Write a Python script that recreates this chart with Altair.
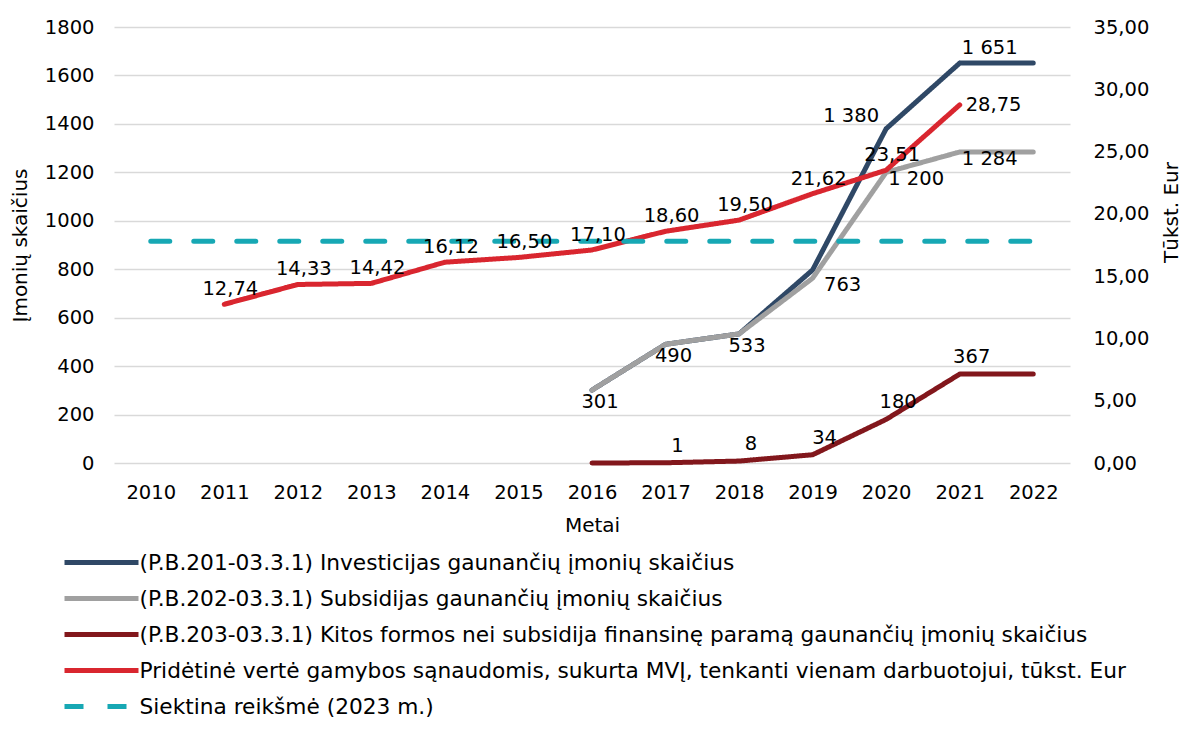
import altair as alt
import pandas as pd

# ---------------- data ----------------
years = [2010, 2011, 2012, 2013, 2014, 2015, 2016, 2017, 2018, 2019, 2020, 2021, 2022]

s_invest = "(P.B.201-03.3.1) Investicijas gaunančių įmonių skaičius"
s_subsid = "(P.B.202-03.3.1) Subsidijas gaunančių įmonių skaičius"
s_kitos = "(P.B.203-03.3.1) Kitos formos nei subsidija finansinę paramą gaunančių įmonių skaičius"
s_prid = "Pridėtinė vertė gamybos sąnaudomis, sukurta MVĮ, tenkanti vienam darbuotojui, tūkst. Eur"
s_target = "Siektina reikšmė (2023 m.)"

invest = [None, None, None, None, None, None, 301, 490, 533, 797, 1380, 1651, 1651]
subsid = [None, None, None, None, None, None, 301, 490, 533, 763, 1200, 1284, 1284]
kitos = [None, None, None, None, None, None, 0, 1, 8, 34, 180, 367, 367]
pridetine = [None, 12.74, 14.33, 14.42, 16.12, 16.50, 17.10, 18.60, 19.50, 21.62, 23.51, 28.75, None]
target = [17.8] * 13

invest_labeled = [2020, 2021]
subsid_labeled = [2016, 2017, 2018, 2019, 2020, 2021]
kitos_labeled = [2017, 2018, 2019, 2020, 2021]
prid_labeled = [2011, 2012, 2013, 2014, 2015, 2016, 2017, 2018, 2019, 2020, 2021]

series_names = [s_invest, s_subsid, s_kitos, s_prid, s_target]
series_colors = ["#2f4866", "#a0a0a0", "#82171c", "#d9262f", "#17a8b4"]
series_dash = [[1, 0], [1, 0], [1, 0], [1, 0], [19, 24]]


def count_label(v):
    return f"{v:,}".replace(",", " ")


def eur_label(v):
    return f"{v:.2f}".replace(".", ",")


def frame(name, values, labeled, fmt):
    rows = []
    for y, v in zip(years, values):
        if v is None:
            continue
        rows.append({"year": str(y), "series": name, "value": v,
                     "label": fmt(v) if (fmt and y in labeled) else ""})
    return pd.DataFrame(rows)


df_invest = frame(s_invest, invest, invest_labeled, count_label)
df_subsid = frame(s_subsid, subsid, subsid_labeled, count_label)
df_kitos = frame(s_kitos, kitos, kitos_labeled, count_label)
df_prid = frame(s_prid, pridetine, prid_labeled, eur_label)
df_target = frame(s_target, target, [], None)

FONT = "DejaVu Sans"
NUM = 19.5

x_enc = alt.X(
    "year:O",
    scale=alt.Scale(domain=[str(y) for y in years], padding=0.5),
    axis=alt.Axis(title="Metai", labelAngle=0, ticks=False, domain=False,
                  labelPadding=20, titlePadding=14, labelFontSize=NUM,
                  titleFontSize=20, titleFontWeight="normal", labelColor="#000",
                  titleColor="#000", labelFont=FONT, titleFont=FONT, grid=False),
)

y_left = alt.Y(
    "value:Q",
    scale=alt.Scale(domain=[0, 1800], nice=False),
    axis=alt.Axis(values=list(range(0, 1801, 200)), format="d", title="Įmonių skaičius",
                  grid=True, gridColor="#d9d9d9", gridWidth=1.5, domain=False, ticks=False,
                  labelPadding=20, titlePadding=14, labelFontSize=NUM, titleFontSize=20,
                  titleFontWeight="normal", labelColor="#000", titleColor="#000",
                  labelFont=FONT, titleFont=FONT),
)

y_right = alt.Y(
    "value:Q",
    scale=alt.Scale(domain=[0, 35], nice=False),
    axis=alt.Axis(orient="right", values=list(range(0, 36, 5)),
                  labelExpr="replace(format(datum.value, '.2f'), '.', ',')",
                  title="Tūkst. Eur", titleAngle=270, titleAlign="center",
                  titleBaseline="middle", titleX=101, titleY=185,
                  grid=False, domain=False, ticks=False,
                  labelPadding=23, labelFontSize=NUM, titleFontSize=20,
                  titleFontWeight="normal", labelColor="#000", titleColor="#000",
                  labelFont=FONT, titleFont=FONT),
)

legend = alt.Legend(
    title=None, orient="none", legendX=-33.5, legendY=514.5, direction="vertical",
    symbolType="M-2,0H2", symbolSize=1369, symbolStrokeWidth=5,
    labelFontSize=21.7, labelFont=FONT, labelColor="#000", labelLimit=1200,
    labelOffset=17, rowPadding=3, padding=0,
)

color_enc = alt.Color("series:N", scale=alt.Scale(domain=series_names, range=series_colors),
                      legend=legend)
dash_enc = alt.StrokeDash("series:N", scale=alt.Scale(domain=series_names, range=series_dash),
                          legend=legend)


def line(df, y):
    return alt.Chart(df).mark_line(strokeWidth=5, strokeCap="round", strokeJoin="round").encode(
        x=x_enc, y=y, color=color_enc, strokeDash=dash_enc)


def labels(df, y, dx, dy, align="center"):
    return alt.Chart(df).mark_text(dx=dx, dy=dy, align=align, baseline="middle",
                                   font=FONT, fontSize=NUM, color="#000").encode(
        x=x_enc, y=y, text="label:N")


left = alt.layer(
    line(df_invest, y_left),
    line(df_subsid, y_left),
    line(df_kitos, y_left),
    labels(df_invest[df_invest.year == "2020"], y_left, -35, -13),
    labels(df_invest[df_invest.year == "2021"], y_left, 30, -15),
    labels(df_subsid[df_subsid.year.isin(["2016", "2017", "2018"])], y_left, 8, 12),
    labels(df_subsid[df_subsid.year.isin(["2019", "2020", "2021"])], y_left, 30, 7),
    labels(df_kitos, y_left, 12, -17),
)

right = alt.layer(
    line(df_prid, y_right),
    line(df_target, y_right),
    labels(df_prid[df_prid.year != "2021"], y_right, 6, -15),
    labels(df_prid[df_prid.year == "2021"], y_right, 6, 0, align="left"),
)

chart = alt.layer(left, right).resolve_scale(y="independent").properties(
    width=956, height=436,
    autosize=alt.AutoSizeParams(type="none"),
    padding={"left": 106, "top": 19, "right": 112, "bottom": 260},
).configure_view(stroke=None)

chart.save("out.html", embed_options={"renderer": "svg", "actions": False})
